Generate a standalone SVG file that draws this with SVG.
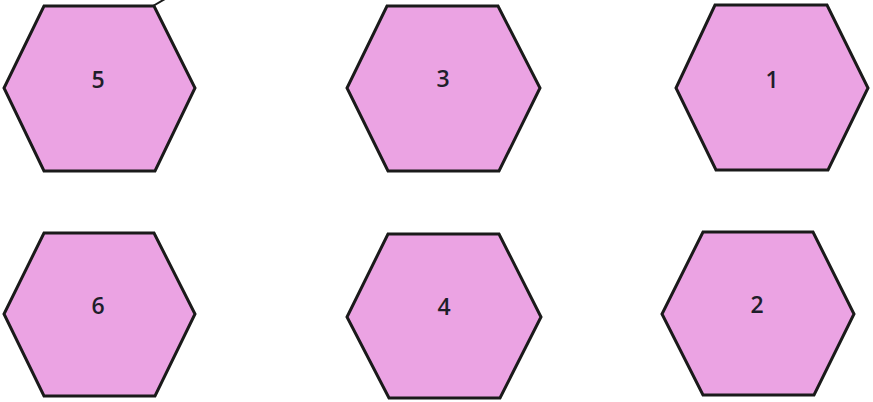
<svg xmlns="http://www.w3.org/2000/svg" width="873" height="402" viewBox="0 0 873 402">
<style>
.hex{fill:#EBA3E3;stroke:#1a1a1a;stroke-width:3;stroke-linejoin:miter}
.lbl{font-family:"Open Sans","Liberation Sans",sans-serif;font-size:23px;font-weight:600;fill:#1e1e2a;text-anchor:middle}
</style>
<rect width="873" height="402" fill="#ffffff"/>
<g id="connectors">
<line x1="153" y1="6" x2="165" y2="-1" stroke="#1a1a1a" stroke-width="2"/>
</g>
<g id="node5">
<polygon class="hex" points="44,6 154,6 195,88 155,171 44,171 4,88"/>
<text class="lbl" x="98" y="88">5</text>
</g>
<g id="node3">
<polygon class="hex" points="387,6 498,6 540,88 499,171 388,171 347,88"/>
<text class="lbl" x="443" y="87">3</text>
</g>
<g id="node1">
<polygon class="hex" points="715,5 827,5 868,88 828,170 716,170 676,88"/>
<text class="lbl" x="772" y="88">1</text>
</g>
<g id="node6">
<polygon class="hex" points="44,233 154,233 195,314 155,396 44,396 4,314"/>
<text class="lbl" x="98" y="314">6</text>
</g>
<g id="node4">
<polygon class="hex" points="388,234 499,234 541,317 500,398 389,398 347,317"/>
<text class="lbl" x="444" y="315">4</text>
</g>
<g id="node2">
<polygon class="hex" points="703,232 813,232 854,314 814,395 703,395 662,314"/>
<text class="lbl" x="757" y="313">2</text>
</g>
</svg>
